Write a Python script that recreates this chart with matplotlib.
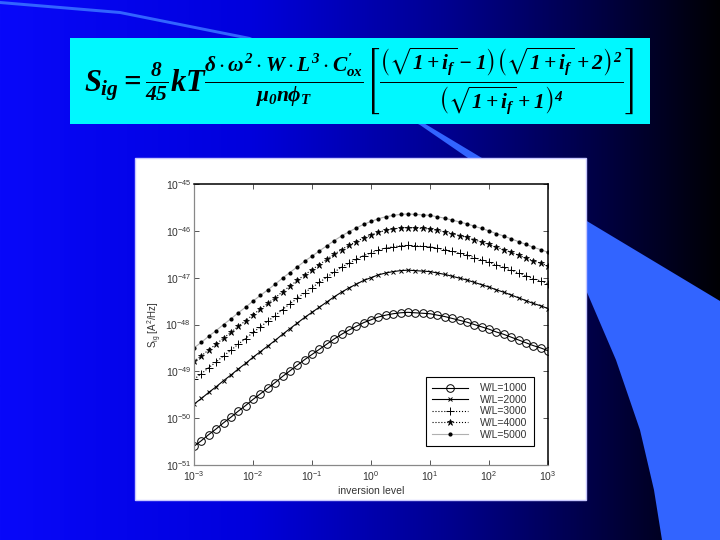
import numpy as np
import matplotlib
matplotlib.use('Agg')
import matplotlib.pyplot as plt
from matplotlib.patches import Rectangle, Polygon
from matplotlib.colors import LinearSegmentedColormap
from matplotlib.ticker import FixedLocator, FuncFormatter, NullLocator

plt.rcParams['mathtext.fontset'] = 'custom'
plt.rcParams['mathtext.rm'] = 'Liberation Serif:italic:bold'
plt.rcParams['mathtext.it'] = 'Liberation Serif:italic:bold'
plt.rcParams['mathtext.bf'] = 'Liberation Serif:italic:bold'
plt.rcParams['mathtext.sf'] = 'Liberation Sans'
plt.rcParams['mathtext.fallback'] = 'stix'
plt.rcParams['font.family'] = ['Liberation Sans', 'DejaVu Sans']

# log10 of inversion level i_f
inv_exp = [-3.0, -2.875, -2.75, -2.625, -2.5, -2.375, -2.25, -2.125, -2.0,
           -1.875, -1.75, -1.625, -1.5, -1.375, -1.25, -1.125, -1.0,
           -0.875, -0.75, -0.625, -0.5, -0.375, -0.25, -0.125, 0.0,
           0.125, 0.25, 0.375, 0.5, 0.625, 0.75, 0.875, 1.0,
           1.125, 1.25, 1.375, 1.5, 1.625, 1.75, 1.875, 2.0,
           2.125, 2.25, 2.375, 2.5, 2.625, 2.75, 2.875, 3.0]

# log10 of S_ig [A^2/Hz], one list per W/L
s_wl1000 = [-50.60, -50.48, -50.35, -50.23, -50.10, -49.98, -49.85, -49.73, -49.60, -49.48,
            -49.36, -49.24, -49.11, -48.99, -48.87, -48.75, -48.64, -48.53, -48.42, -48.31,
            -48.21, -48.12, -48.04, -47.96, -47.90, -47.84, -47.80, -47.77, -47.75, -47.74,
            -47.75, -47.76, -47.77, -47.80, -47.83, -47.87, -47.91, -47.95, -48.00, -48.05,
            -48.10, -48.16, -48.21, -48.27, -48.33, -48.39, -48.45, -48.50, -48.56]
s_wl2000 = [-49.70, -49.58, -49.45, -49.33, -49.20, -49.08, -48.95, -48.83, -48.70, -48.58,
            -48.46, -48.34, -48.21, -48.09, -47.97, -47.85, -47.74, -47.63, -47.52, -47.41,
            -47.31, -47.22, -47.14, -47.06, -47.00, -46.94, -46.90, -46.87, -46.85, -46.84,
            -46.85, -46.86, -46.87, -46.90, -46.93, -46.97, -47.01, -47.05, -47.10, -47.15,
            -47.20, -47.26, -47.31, -47.37, -47.43, -47.49, -47.55, -47.60, -47.66]
s_wl3000 = [-49.17, -49.05, -48.92, -48.80, -48.67, -48.55, -48.42, -48.30, -48.17, -48.05,
            -47.93, -47.81, -47.68, -47.56, -47.44, -47.32, -47.21, -47.10, -46.99, -46.88,
            -46.78, -46.69, -46.61, -46.53, -46.47, -46.41, -46.37, -46.34, -46.32, -46.31,
            -46.32, -46.33, -46.34, -46.37, -46.40, -46.44, -46.48, -46.52, -46.57, -46.62,
            -46.67, -46.73, -46.78, -46.84, -46.90, -46.96, -47.02, -47.07, -47.13]
s_wl4000 = [-48.79, -48.67, -48.54, -48.42, -48.29, -48.17, -48.04, -47.92, -47.79, -47.67,
            -47.55, -47.43, -47.30, -47.18, -47.06, -46.94, -46.83, -46.72, -46.61, -46.50,
            -46.40, -46.31, -46.23, -46.15, -46.09, -46.03, -45.99, -45.96, -45.94, -45.93,
            -45.94, -45.95, -45.96, -45.99, -46.02, -46.06, -46.10, -46.14, -46.19, -46.24,
            -46.29, -46.35, -46.40, -46.46, -46.52, -46.58, -46.64, -46.69, -46.75]
s_wl5000 = [-48.50, -48.38, -48.25, -48.13, -48.00, -47.88, -47.75, -47.63, -47.50, -47.38,
            -47.26, -47.14, -47.01, -46.89, -46.77, -46.65, -46.54, -46.43, -46.32, -46.21,
            -46.11, -46.02, -45.94, -45.86, -45.80, -45.74, -45.70, -45.67, -45.65, -45.64,
            -45.65, -45.66, -45.67, -45.70, -45.73, -45.77, -45.81, -45.85, -45.90, -45.95,
            -46.00, -46.06, -46.11, -46.17, -46.23, -46.29, -46.35, -46.40, -46.46]

series_labels = ['W/L=1000', 'W/L=2000', 'W/L=3000', 'W/L=4000', 'W/L=5000']
x_ticks = [-3, -2, -1, 0, 1, 2, 3]
y_ticks = [-51, -50, -49, -48, -47, -46, -45]

formula = (r'$S_{ig}=\frac{8}{45}kT\frac{\delta\cdot\omega^2\cdot W\cdot L^3\cdot C^{\prime}_{ox}}'
           r'{\mu_0 n\phi_T}\left[\frac{\left(\sqrt{1+i_f}-1\right)\left(\sqrt{1+i_f}+2\right)^2}'
           r'{\left(\sqrt{1+i_f}+1\right)^4}\right]$')

fig = plt.figure(figsize=(7.2, 5.4), dpi=100)

# slide background, in pixel coordinates
bg = fig.add_axes([0, 0, 1, 1])
cmap = LinearSegmentedColormap.from_list(
    'slide', [(0, '#0808fa'), (0.35, '#0000dc'), (0.62, '#000090'),
              (0.82, '#000048'), (1, '#000004')])
bg.imshow(np.linspace(0, 1, 256)[None, :], aspect='auto', cmap=cmap,
          extent=[0, 720, 540, 0])
swoosh = [(0, 1), (120, 11), (250, 37), (422, 122), (720, 301), (720, 540),
          (662, 540), (654, 490), (640, 430), (616, 360), (586, 290),
          (530, 215), (468, 158), (420, 125), (250, 40), (120, 14), (0, 4)]
bg.add_patch(Polygon(swoosh, closed=True, facecolor='#3264ff', edgecolor='none'))
bg.add_patch(Rectangle((70, 38), 580, 86, facecolor='#00f8ff', edgecolor='none'))
bg.add_patch(Rectangle((135, 158), 451, 342, facecolor='white',
                       edgecolor='#c8c8ff', linewidth=1))
bg.text(359, 81, formula, fontsize=22, ha='center', va='center', color='black')
bg.set_xlim(0, 720)
bg.set_ylim(540, 0)
bg.axis('off')

ax = fig.add_axes([194 / 720, 1 - 465 / 540, 354 / 720, 281 / 540])
x = np.power(10.0, inv_exp)
styles = [
    dict(color='black', ls='-', marker='o', mfc='none', ms=5.5, mew=0.7),
    dict(color='black', ls='-', marker='x', ms=3.5, mew=0.7),
    dict(color='black', ls=':', marker='+', ms=5.5, mew=0.7),
    dict(color='black', ls=':', marker='*', ms=5, mew=0.5),
    dict(color='#b0b0b0', ls='-', marker='.', mfc='black', mec='black', ms=4),
]
handles = []
for vals, lab, st in zip([s_wl1000, s_wl2000, s_wl3000, s_wl4000, s_wl5000],
                         series_labels, styles):
    ln, = ax.plot(x, np.power(10.0, vals), lw=0.8, label=lab, **st)
    handles.append(ln)

ax.set_xscale('log')
ax.set_yscale('log')
ax.set_xlim(1e-3, 1e3)
ax.set_ylim(1e-51, 1e-45)
ax.xaxis.set_major_locator(FixedLocator([10.0 ** e for e in x_ticks]))
ax.yaxis.set_major_locator(FixedLocator([10.0 ** e for e in y_ticks]))
ax.xaxis.set_minor_locator(NullLocator())
ax.yaxis.set_minor_locator(NullLocator())
fmt = FuncFormatter(lambda v, _: r'$\mathsf{10^{%d}}$' % round(np.log10(v)))
ax.xaxis.set_major_formatter(fmt)
ax.yaxis.set_major_formatter(fmt)
ax.tick_params(which='both', direction='in', top=True, right=True,
               length=3.5, width=0.7, labelsize=7.5, labelcolor='#333333',
               colors='#555555', pad=3)
ax.tick_params(axis='y', pad=2)
for side in ['left', 'bottom']:
    ax.spines[side].set_color('#888888')
    ax.spines[side].set_linewidth(0.9)
for side in ['top', 'right']:
    ax.spines[side].set_color('black')
    ax.spines[side].set_linewidth(1.1)

ax.set_xlabel('inversion level', fontsize=7.5, color='#333333', labelpad=2)
ax.set_ylabel(r'$\mathsf{S_{ig}\ [A^2/Hz]}$', fontsize=7, color='#333333', labelpad=1)

leg = ax.legend(handles=handles, loc='upper left',
                bbox_to_anchor=(426 / 720, 1 - 377 / 540),
                bbox_transform=fig.transFigure, fontsize=7.5, frameon=True,
                fancybox=False, edgecolor='black', framealpha=1,
                handlelength=3.4, labelspacing=0.15, borderpad=0.6,
                handletextpad=1.2, borderaxespad=0)
leg.get_frame().set_linewidth(0.8)
for t in leg.get_texts():
    t.set_color('#333333')

fig.savefig('out.png', dpi=100)
